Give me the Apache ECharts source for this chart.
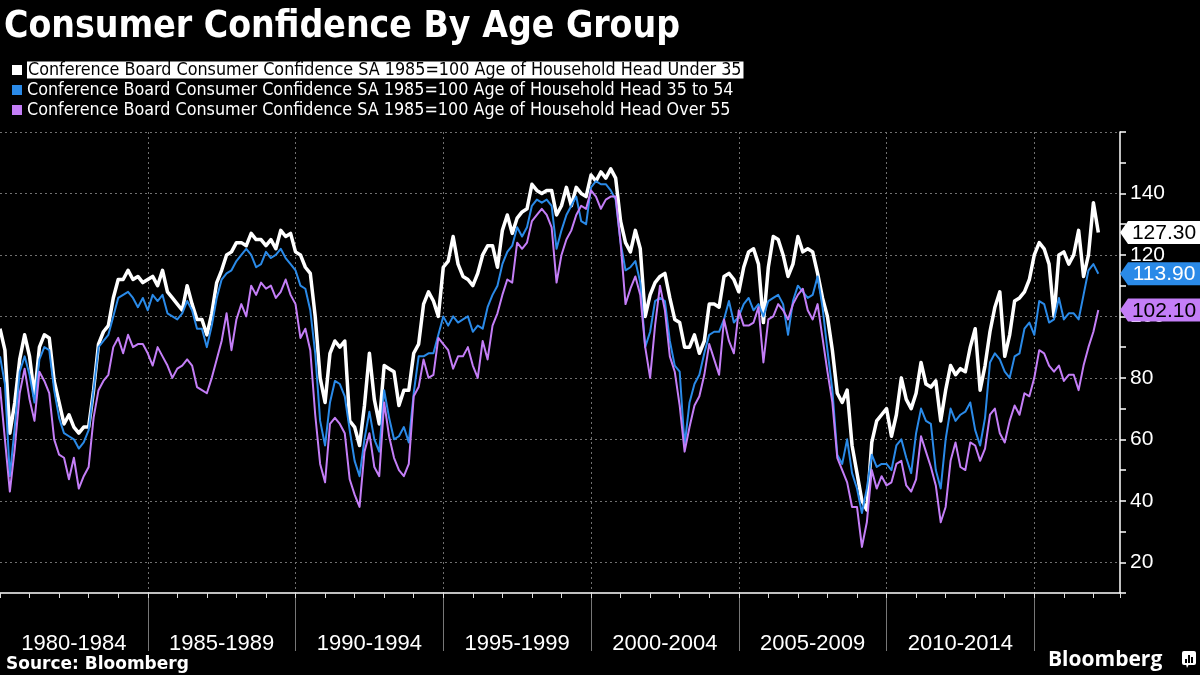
<!DOCTYPE html>
<html>
<head>
<meta charset="utf-8">
<script src="https://cdn.jsdelivr.net/npm/echarts@6/dist/echarts.min.js"></script>
<style>
html,body{margin:0;padding:0;background:#000;}
#chart{width:1200px;height:675px;}
</style>
</head>
<body>
<div id="chart"></div>
<script>
// ---------------- data ----------------
const TITLE = 'Consumer Confidence By Age Group';
const SOURCE = 'Source: Bloomberg';
const NAME_UNDER35 = 'Conference Board Consumer Confidence SA 1985=100 Age of Household Head Under 35';
const NAME_35TO54 = 'Conference Board Consumer Confidence SA 1985=100 Age of Household Head 35 to 54';
const NAME_OVER55 = 'Conference Board Consumer Confidence SA 1985=100 Age of Household Head Over 55';

// samples every two months starting January 1980
const START_YEAR = 1980;
const STEP_YEARS = 1 / 6;

const PERIOD_LABELS = ['1980-1984','1985-1989','1990-1994','1995-1999','2000-2004','2005-2009','2010-2014'];
const X_MIN = 1980, X_MAX = 2017.9;
const Y_MIN = 10, Y_MAX = 160, Y_STEP = 10;

const under35 = [
96,89,62,72,86,94,87,74,90,94,
93,79,72,65,68,64,62,64,64,76,
91,95,97,106,112,112,115,112,113,111,
112,113,110,115,108,106,104,102,110,104,
99,99,94,101,111,115,120,121,124,124,
123,127,125,125,123,125,122,128,126,127,
121,120,116,114,100,80,72,88,92,90,
92,66,64,58,71,88,73,65,84,83,
82,71,76,76,88,91,104,108,105,100,
116,118,126,117,113,112,110,114,120,123,
123,116,128,133,127,132,134,135,143,141,
140,141,141,133,136,142,136,142,140,139,
146,144,147,145,148,145,131,124,121,128,
122,100,107,111,113,114,106,99,98,90,
90,94,88,92,104,104,103,113,114,112,
108,116,121,122,117,98,116,126,125,120,
113,117,126,121,122,121,114,106,100,89,
75,72,76,58,49,40,37,59,66,68,
70,61,68,80,73,70,75,85,78,77,
79,66,76,84,81,83,82,90,96,76,
84,95,103,108,87,94,105,106,108,112,
120,124,122,117,100,120,121,117,120,128,
113,120,137,127.3
];

const age35to54 = [
87,78,48,64,82,87,81,72,86,90,
89,76,67,62,61,60,57,59,63,76,
90,92,94,100,106,107,108,106,103,106,
102,107,105,107,101,100,99,101,105,102,
96,96,90,97,106,112,114,115,118,120,
122,120,116,117,121,119,120,122,119,117,
115,110,109,102,88,66,58,72,79,78,
74,63,53,48,60,69,60,56,76,67,
60,61,64,59,75,87,87,88,88,94,
100,97,100,98,99,100,95,97,96,103,
107,110,117,121,123,129,126,129,136,138,
137,138,136,122,128,133,136,139,131,130,
142,144,143,143,141,138,124,115,116,118,
111,90,95,105,106,105,92,84,82,58,
72,78,81,88,94,95,95,99,105,98,
100,104,106,102,104,100,105,106,107,104,
94,105,110,108,106,107,113,103,89,76,
55,52,60,49,44,36,44,55,51,52,
52,50,58,60,54,49,62,70,66,65,
50,44,60,70,66,68,69,72,63,58,
67,85,88,86,82,80,87,88,96,98,
94,105,104,98,99,106,99,101,101,99,
107,115,117,113.9
];

const over55 = [
77,60,43,57,75,83,73,66,82,79,
75,60,55,54,47,54,44,48,51,67,
76,79,81,90,93,88,94,90,91,91,
88,84,90,87,84,80,83,84,86,84,
77,76,75,80,86,92,101,89,99,104,
100,110,107,111,109,110,106,108,112,107,
104,93,96,89,68,52,46,65,67,65,
62,47,42,38,56,62,51,48,72,61,
54,50,48,52,74,77,86,80,81,93,
91,89,83,87,87,90,84,80,92,86,
97,101,107,112,111,124,122,124,131,133,
135,133,129,111,120,125,128,133,136,135,
141,139,135,138,139,139,124,104,109,113,
107,90,80,97,110,102,87,82,71,56,
64,71,74,81,91,86,81,99,92,88,
102,97,97,98,103,85,99,100,104,102,
99,104,107,109,102,99,104,93,82,72,
54,50,46,38,38,25,33,50,44,48,
45,46,52,53,45,43,47,61,56,51,
45,33,38,53,59,51,50,59,58,53,
57,68,70,62,59,66,71,68,75,74,
80,89,88,84,82,84,79,81,81,76,
84,90,95,102.1
];

// ---------------- styles ----------------
const C_WHITE = '#ffffff', C_BLUE = '#2a8ae8', C_PURPLE = '#c47ef7';
const GRID_COLOR = '#707070';
const NUM_FONT = '"Liberation Sans", Arial, sans-serif';
const LEG_FONT = '"DejaVu Sans Condensed", "DejaVu Sans", sans-serif';

function pairs(vals) { return vals.map((v, i) => [START_YEAR + i * STEP_YEARS, v]); }

const labelCenters = PERIOD_LABELS.map((_, k) => X_MIN + 5 * k + 2.5);
const separatorValues = PERIOD_LABELS.map((_, k) => X_MIN + 5 * (k + 1));

function tag(vals, bg, fg) {
  const last = vals[vals.length - 1];
  return {
    silent: true,
    symbol: 'path://M0,11.5L8,0L84,0L84,23L8,23Z',
    symbolSize: [84, 23],
    symbolOffset: [42, 0],
    itemStyle: { color: bg },
    label: {
      show: true, position: 'inside', color: fg,
      fontSize: 21, fontFamily: NUM_FONT, offset: [2, 1],
      formatter: p => Number(p.value).toFixed(2)
    },
    data: [{ coord: [X_MAX, last], value: last }]
  };
}

function lineSeries(name, vals, color, width) {
  return {
    name, type: 'line', data: pairs(vals), xAxisIndex: 0,
    showSymbol: false, symbol: 'none', color,
    lineStyle: { color, width, join: 'round' },
    emphasis: { disabled: true }
  };
}

const sW = lineSeries(NAME_UNDER35, under35, C_WHITE, 3.5);
const sB = lineSeries(NAME_35TO54, age35to54, C_BLUE, 2);
const sP = lineSeries(NAME_OVER55, over55, C_PURPLE, 2);
sW.markPoint = tag(under35, C_WHITE, '#000');
sB.markPoint = tag(age35to54, C_BLUE, '#fff');
sP.markPoint = tag(over55, C_PURPLE, '#000');

const chart = echarts.init(document.getElementById('chart'), null, { renderer: 'canvas' });
chart.setOption({
  backgroundColor: '#000',
  animation: false,
  title: [
    { text: TITLE, left: -1, top: 9, padding: [0, 5, 0, 5],
      textStyle: { color: '#fff', fontSize: 37, fontWeight: 'bold', fontFamily: LEG_FONT } },
    { text: SOURCE, left: 1, top: 651,
      textStyle: { color: '#fff', fontSize: 17, fontWeight: 'bold', fontFamily: '"DejaVu Sans", sans-serif' } },
    { text: 'Bloomberg', left: 1043, top: 645,
      textStyle: { color: '#fff', fontSize: 21, fontWeight: 'bold', fontFamily: '"Open Sans", sans-serif' } }
  ],
  legend: {
    orient: 'vertical', left: 12, top: 61, itemGap: 2, padding: 0,
    itemWidth: 10, itemHeight: 10, icon: 'rect',
    selectedMode: false,
    textStyle: { color: '#fff', fontSize: 17.8, fontFamily: LEG_FONT, lineHeight: 17 },
    data: [
      { name: NAME_UNDER35, textStyle: { color: '#000', backgroundColor: '#fff', padding: [0, 2, 0, 1] } },
      { name: NAME_35TO54 },
      { name: NAME_OVER55 }
    ]
  },
  grid: { left: 0, right: 80, top: 132, bottom: 82, containLabel: false },
  xAxis: [
    {
      type: 'value', min: X_MIN, max: X_MAX, interval: 5, position: 'bottom',
      axisLine: { show: true, onZero: false, lineStyle: { color: '#fff', width: 1.5 } },
      axisTick: { show: true, customValues: separatorValues, length: 58, lineStyle: { color: '#777', width: 1 } },
      axisLabel: {
        show: true, customValues: labelCenters, margin: 40, color: '#fff',
        fontSize: 22, fontFamily: NUM_FONT,
        formatter: v => PERIOD_LABELS[Math.round((v - X_MIN - 2.5) / 5)] || ''
      },
      splitLine: { show: true, lineStyle: { color: GRID_COLOR, width: 1, type: [2, 3] } }
    },
    {
      type: 'value', min: X_MIN, max: X_MAX, interval: 1, position: 'bottom',
      axisLine: { show: false, onZero: false },
      axisTick: { show: true, length: 5, lineStyle: { color: '#ddd', width: 1 } },
      axisLabel: { show: false },
      splitLine: { show: false }
    }
  ],
  yAxis: {
    type: 'value', position: 'right', min: Y_MIN, max: Y_MAX, interval: Y_STEP,
    axisLine: { show: true, onZero: false, lineStyle: { color: '#fff', width: 1.5 } },
    axisTick: { show: true, length: 6, lineStyle: { color: '#fff', width: 1.5 } },
    axisLabel: {
      color: '#fff', fontSize: 21, fontFamily: NUM_FONT, margin: 10,
      formatter: v => (v % 20 === 0 && v < Y_MAX) ? String(v) : ''
    },
    splitLine: { show: true, lineStyle: { color: ['transparent', GRID_COLOR], width: 1, type: [2, 3] } }
  },
  series: [sW, sB, sP]
});

// Bloomberg logo mark (decoration)
chart.setOption({
  graphic: [
    { type: 'rect', left: 1182, top: 651, shape: { width: 14, height: 14, r: 2 }, style: { fill: '#fff' } },
    { type: 'polygon', shape: { points: [[1186, 664], [1189, 664], [1187, 668]] }, style: { fill: '#fff' } },
    { type: 'rect', left: 1185, top: 659, shape: { width: 2, height: 4 }, style: { fill: '#000' } },
    { type: 'rect', left: 1188, top: 655, shape: { width: 2, height: 8 }, style: { fill: '#000' } },
    { type: 'rect', left: 1191, top: 657, shape: { width: 2, height: 6 }, style: { fill: '#000' } }
  ]
});
</script>
</body>
</html>
